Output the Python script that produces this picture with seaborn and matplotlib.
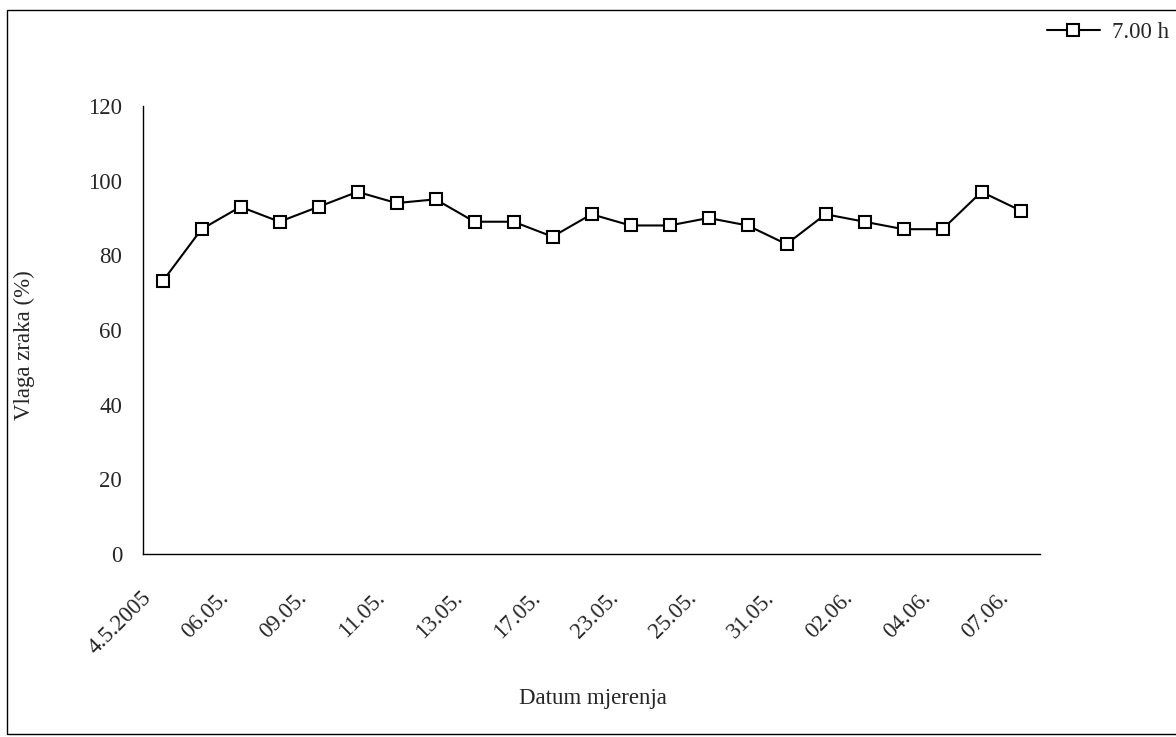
import numpy as np
import pandas as pd
import seaborn as sns
import matplotlib.pyplot as plt
from matplotlib.patches import Rectangle
from matplotlib.transforms import ScaledTranslation

# Data
dates = ["4.5.2005", "05.05.", "06.05.", "07.05.", "09.05.", "10.05.", "11.05.", "12.05.",
         "13.05.", "16.05.", "17.05.", "20.05.", "23.05.", "24.05.", "25.05.", "30.05.",
         "31.05.", "01.06.", "02.06.", "03.06.", "04.06.", "06.06.", "07.06."]
humidity = [73, 87, 93, 89, 93, 97, 94, 95, 89, 89, 85, 91, 88, 88, 90, 88, 83, 91, 89, 87, 87, 97, 92]
shown_labels = ["4.5.2005", "06.05.", "09.05.", "11.05.", "13.05.", "17.05.",
                "23.05.", "25.05.", "31.05.", "02.06.", "04.06.", "07.06."]
y_ticks = [0, 20, 40, 60, 80, 100, 120]

df = pd.DataFrame({"idx": np.arange(len(humidity)), "vlaga": humidity, "serija": "7.00 h"})

sns.set_style("white")
plt.rcParams['font.family'] = ['Liberation Serif', 'DejaVu Serif']
FS = 16.5

fig = plt.figure(figsize=(11.76, 7.37), dpi=100)
ax = fig.add_axes([143 / 1176, 1 - 554 / 737, (1040 - 143) / 1176, (554 - 106) / 737])

sns.lineplot(data=df, x="idx", y="vlaga", hue="serija", palette=["black"], marker="s",
             markersize=8, markerfacecolor="white", markeredgecolor="black",
             markeredgewidth=1.5, linewidth=1.5, ax=ax)

ax.set_xlim(-0.5, len(humidity) - 0.5)
ax.set_ylim(0, 120)
ax.set_yticks(y_ticks)

# labels on every second category, tick marks on category boundaries
ax.set_xticks(np.arange(0, len(humidity), 2))
ax.set_xticklabels(shown_labels, rotation=45, ha="right", va="baseline", rotation_mode="anchor")
ax.set_xticks(np.arange(-0.5, len(humidity), 1), minor=True)
ax.tick_params(axis="x", which="major", length=0, pad=32, labelsize=FS)
ax.tick_params(axis="x", which="minor", length=6, width=1, direction="out", color="black")
ax.tick_params(axis="y", length=6, width=1, direction="out", color="black", labelsize=FS, pad=9)
shift = ScaledTranslation(-11 / 100, 0, fig.dpi_scale_trans)
for lab in ax.get_xticklabels():
    lab.set_transform(lab.get_transform() + shift)

for s in ["top", "right"]:
    ax.spines[s].set_visible(False)
for s in ["left", "bottom"]:
    ax.spines[s].set_color("black")
    ax.spines[s].set_linewidth(1)

ax.set_xlabel("Datum mjerenja", fontsize=FS)
ax.set_ylabel("Vlaga zraka (%)", fontsize=FS)
ax.xaxis.set_label_coords(593 / 1176, 1 - 688 / 737, transform=fig.transFigure)
ax.yaxis.set_label_coords(35 / 1176, 1 - 345 / 737, transform=fig.transFigure)

h, l = ax.get_legend_handles_labels()
ax.legend(h, l, loc="center left", bbox_to_anchor=(1047 / 1176, 1 - 32 / 737),
          bbox_transform=fig.transFigure, frameon=False, handlelength=2.3,
          handletextpad=0.55, fontsize=FS, borderaxespad=0, borderpad=0)

# chart area border (right side runs off the image)
fig.patches.append(Rectangle((7 / 1176, 1 - 734 / 737), 1.05, (734 - 10) / 737,
                             transform=fig.transFigure, fill=False, edgecolor="black",
                             linewidth=1, clip_on=False))

fig.savefig("out.png", dpi=100)
